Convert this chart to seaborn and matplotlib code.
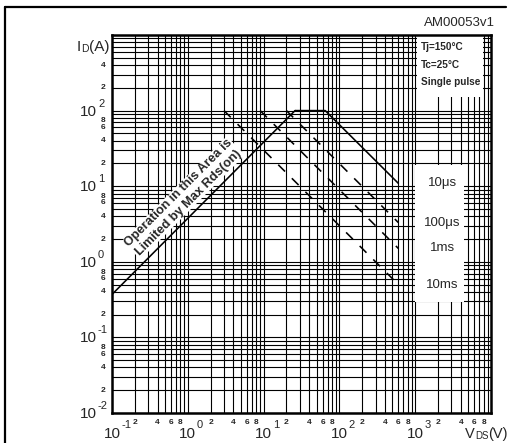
import numpy as np
import pandas as pd
import matplotlib
matplotlib.use("Agg")
import matplotlib.pyplot as plt
import matplotlib.transforms as mtransforms
from matplotlib.patches import Rectangle
from matplotlib.lines import Line2D
from matplotlib.ticker import LogLocator, NullFormatter
import seaborn as sns

# ---- Safe operating area data (drain current vs drain-source voltage) ----
rds_vds = [0.1, 26.0]
rds_id = [0.37, 100.0]

us10_vds = [26.0, 65.0, 600.0]
us10_id = [100.0, 100.0, 10.9]

us100_vds = [20.0, 600.0]
us100_id = [100.0, 3.3]

ms1_vds = [9.0, 600.0]
ms1_id = [100.0, 1.5]

ms10_vds = [3.0, 600.0]
ms10_id = [100.0, 0.5]

pulse_labels = ["10\u03bcs", "100\u03bcs", "1ms", "10ms"]
pulse_label_id = [10.9, 3.3, 1.5, 0.5]

x_decades = [-1, 0, 1, 2, 3]
y_decades = [-2, -1, 0, 1, 2]
minor_digits = [2, 4, 6, 8]
top_decade_digits = [2, 4]

conditions = ["Tj=150\u00b0C", "Tc=25\u00b0C", "Single pulse"]
region_text = "Operation in this Area is\nLimited by Max Rds(on)"
chart_code = "AM00053v1"

# ---- long-form table for seaborn ----
frames = [
    pd.DataFrame({"V": rds_vds, "I": rds_id, "curve": "rds"}),
    pd.DataFrame({"V": us10_vds, "I": us10_id, "curve": pulse_labels[0]}),
    pd.DataFrame({"V": us100_vds, "I": us100_id, "curve": pulse_labels[1]}),
    pd.DataFrame({"V": ms1_vds, "I": ms1_id, "curve": pulse_labels[2]}),
    pd.DataFrame({"V": ms10_vds, "I": ms10_id, "curve": pulse_labels[3]}),
]
soa = pd.concat(frames, ignore_index=True)

sns.set_style("white")
plt.rcParams["font.family"] = ["Liberation Sans", "DejaVu Sans"]

W, H = 508, 443
fig = plt.figure(figsize=(W / 100, H / 100), dpi=100)
ax = fig.add_axes([112 / W, 1 - 413 / H, 379 / W, 378 / H])
ax.set_xscale("log")
ax.set_yscale("log")
ax.set_xlim(0.1, 1e4)
ax.set_ylim(0.01, 1000)

# dense log grid at every 1..9 x 10^k
for axis in (ax.xaxis, ax.yaxis):
    axis.set_major_locator(LogLocator(base=10, numticks=20))
    axis.set_minor_locator(LogLocator(base=10, subs=np.arange(2, 10), numticks=200))
    axis.set_minor_formatter(NullFormatter())
ax.set_axisbelow(True)
ax.grid(True, which="both", color="black", linewidth=0.8)
ax.tick_params(which="both", length=0, labelbottom=False, labelleft=False)
for sp in ax.spines.values():
    sp.set_visible(True)
    sp.set_color("black")
    sp.set_linewidth(1.8)

# curves
styles = {
    "rds": "-",
    pulse_labels[0]: "-",
    pulse_labels[1]: (0, (6, 6)),
    pulse_labels[2]: (0, (6, 6)),
    pulse_labels[3]: (0, (6, 6)),
}
for name, grp in soa.groupby("curve", sort=False):
    sns.lineplot(data=grp, x="V", y="I", ax=ax, color="black",
                 linewidth=1.15, linestyle=styles[name], estimator=None,
                 sort=False, zorder=4)
ax.set_xlabel("")
ax.set_ylabel("")

# white panel behind pulse-duration labels
ax.add_patch(Rectangle((1000, 0.29), 3400, 18.7, facecolor="white",
                       edgecolor="none", zorder=2))
for lab, yv in zip(pulse_labels, pulse_label_id):
    ax.text(2300, yv, lab, ha="center", va="center", fontsize=9.5, zorder=5)

# conditions box
ax.add_patch(Rectangle((1060, 151), 6790, 900, facecolor="white",
                       edgecolor="none", zorder=2))
for txt, yv in zip(conditions, [690, 400, 239]):
    ax.text(1200, yv, txt, ha="left", va="center", fontsize=7.2,
            fontweight="bold", zorder=5)

# rotated region annotation, sitting just above the Rds(on) limit
ax.text(0.88, 7.0, region_text, rotation=45, rotation_mode="anchor",
        ha="center", va="center", multialignment="center", fontsize=9.2,
        fontweight="bold", linespacing=1.1, zorder=3,
        bbox=dict(facecolor="white", edgecolor="none", pad=0.5))

# ---- axis tick labels ----
xb = mtransforms.blended_transform_factory(ax.transData, ax.transAxes)
yb = mtransforms.blended_transform_factory(ax.transAxes, ax.transData)


def off(base, dx, dy):
    return mtransforms.offset_copy(base, fig=fig, x=dx, y=dy, units="dots")


for k in x_decades:
    v = 10.0 ** k
    ax.text(v, 0, "10", transform=off(xb, 0, -21), ha="center", va="center",
            fontsize=11, clip_on=False)
    ax.text(v, 0, str(k), transform=off(xb, 9, -12), ha="left", va="center",
            fontsize=8, clip_on=False)
    for d in minor_digits:
        ax.text(d * v, 0, str(d), transform=off(xb, 0, -9), ha="center",
                va="center", fontsize=6, fontweight="bold", clip_on=False)

for k in y_decades:
    v = 10.0 ** k
    ax.text(0, v, "10", transform=off(yb, -15, -1), ha="right", va="center",
            fontsize=11, clip_on=False)
    ax.text(0, v, str(k), transform=off(yb, -14, 7), ha="left", va="center",
            fontsize=8, clip_on=False)
    digits = top_decade_digits if k == 2 else minor_digits
    for d in digits:
        dy = -3 if d == 8 else 0
        ax.text(0, d * v, str(d), transform=off(yb, -9, dy), ha="center",
                va="center", fontsize=6, fontweight="bold", clip_on=False)


def px(x, y):
    return x / W, 1 - y / H


# axis titles with small-cap subscripts
t1 = fig.text(*px(77, 51), "I", fontsize=11, ha="left", va="baseline")
t2 = ax.annotate("D", xy=(1, 0), xycoords=t1, fontsize=7.5, ha="left",
                 va="bottom")
ax.annotate("(A)", xy=(1, 0), xycoords=t2, fontsize=11, ha="left",
            va="bottom")

t3 = fig.text(*px(465, 438), "V", fontsize=10.5, ha="left", va="baseline")
t4 = ax.annotate("DS", xy=(1, 0), xycoords=t3, fontsize=7, ha="left",
                 va="bottom")
ax.annotate("(V)", xy=(1, 0), xycoords=t4, fontsize=10.5, ha="left",
            va="bottom")

fig.text(*px(495, 23), chart_code, fontsize=9.5, ha="right", va="center")

# outer frame (left and top edges)
fig.add_artist(Line2D([5 / W, 5 / W], [0, 1 - 7 / H], color="black",
                      linewidth=1.6, transform=fig.transFigure))
fig.add_artist(Line2D([5 / W, 506 / W], [1 - 7 / H, 1 - 7 / H],
                      color="black", linewidth=1.6,
                      transform=fig.transFigure))

fig.savefig("out.png", dpi=100)
